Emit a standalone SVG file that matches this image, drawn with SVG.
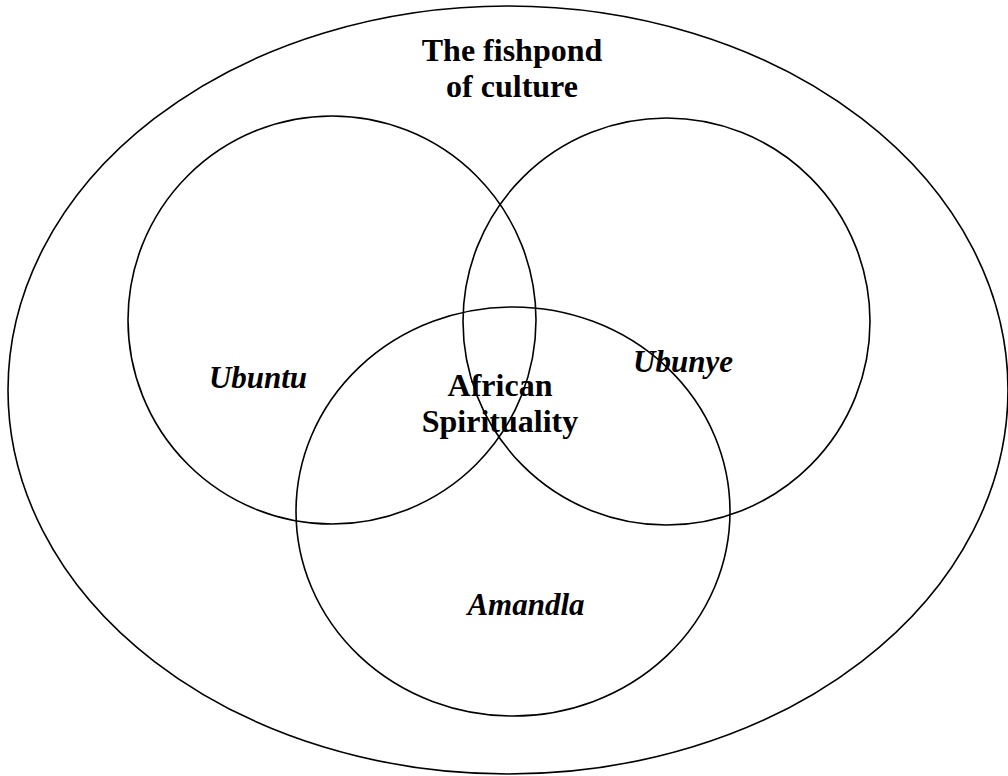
<svg xmlns="http://www.w3.org/2000/svg" width="1008" height="776" viewBox="0 0 1008 776">
<style>
.sh{fill:none;stroke:#000;stroke-width:1.6}
.t{font-family:"Liberation Serif","Times New Roman",serif;font-weight:bold;font-size:32px;fill:#000;text-anchor:middle}
.i{font-style:italic;font-size:31px}
</style>
<rect width="1008" height="776" fill="#fff"/>
<g id="pond">
<ellipse class="sh" cx="508" cy="390" rx="500" ry="384"/>
<text class="t" x="512" y="61">The fishpond</text>
<text class="t" x="512" y="97">of culture</text>
</g>
<g id="ubuntu">
<ellipse class="sh" cx="332" cy="320" rx="204" ry="204"/>
<text class="t i" x="258" y="388">Ubuntu</text>
</g>
<g id="ubunye">
<ellipse class="sh" cx="666.5" cy="321.5" rx="203.5" ry="203.5"/>
<text class="t i" x="683" y="372">Ubunye</text>
</g>
<g id="amandla">
<ellipse class="sh" cx="513" cy="511.5" rx="217" ry="204.5"/>
<text class="t i" x="526" y="615">Amandla</text>
</g>
<g id="spirituality">
<text class="t" x="500" y="396">African</text>
<text class="t" x="500" y="432">Spirituality</text>
</g>
<g id="connectors"></g>
</svg>
